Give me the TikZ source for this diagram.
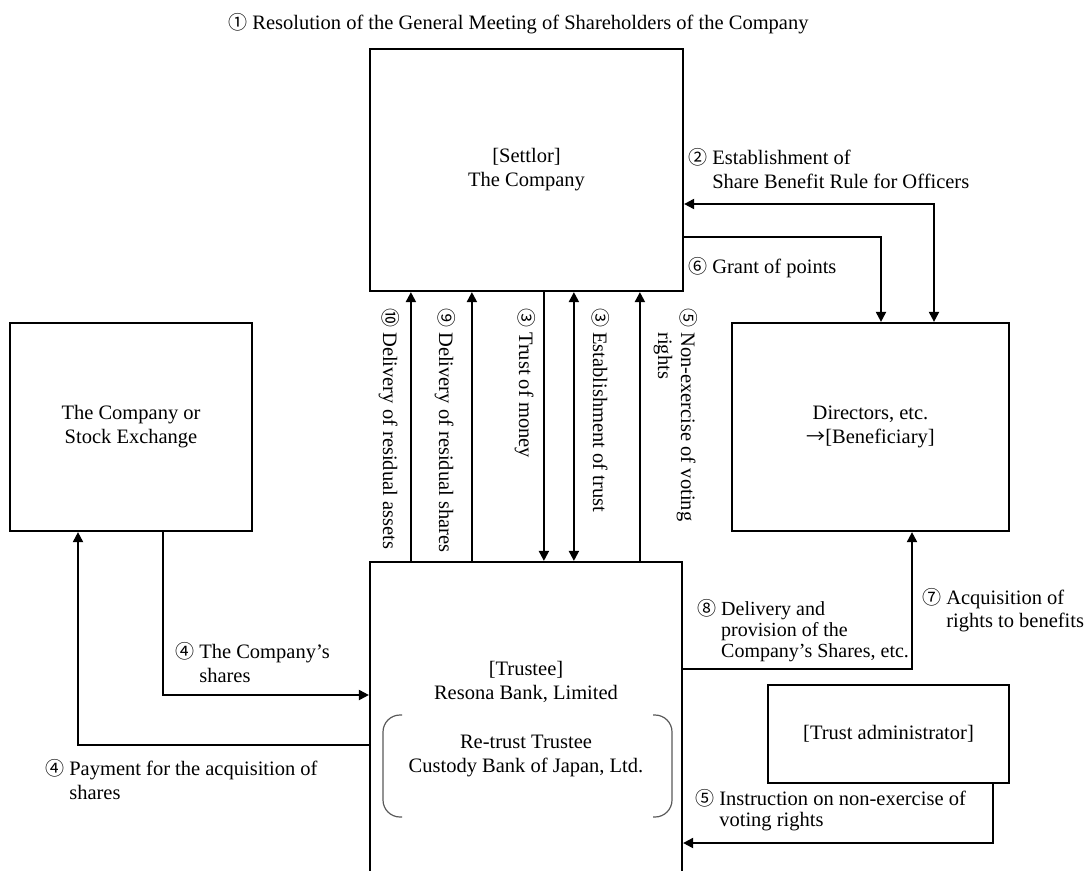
\documentclass[tikz,border=0pt]{standalone}
\usepackage{fontspec}
\setmainfont{Liberation Serif}
\newfontfamily\cjk{Noto Sans CJK JP}
\usetikzlibrary{arrows.meta,calc}
\newcommand{\cn}[1]{{\cjk\fontsize{19}{20}\selectfont #1}}
\newcommand{\ml}[1]{\begin{tabular}[t]{@{}l@{}}#1\end{tabular}}
\begin{document}
\begin{tikzpicture}[x=1pt,y=-1pt,
  every node/.style={font=\fontsize{20.5}{24}\selectfont},
  box/.style={draw, line width=2.2pt, rectangle, inner sep=0pt, align=center},
  txt/.style={inner sep=0pt, align=center},
  lbl/.style={inner sep=0pt, anchor=base west},
  rlbl/.style={inner sep=0pt, anchor=base west, rotate=-90},
  arr/.style={line width=2pt, -{Triangle[length=10pt,width=10pt]}},
  arrs/.style={line width=2pt, {Triangle[length=10pt,width=10pt]}-{Triangle[length=10pt,width=10pt]}},
  brk/.style={draw=black!65, line width=1.2pt, rounded corners=17pt}]
\useasboundingbox (0,0) rectangle (1089,870);
\clip (0,0) rectangle (1089,870);

% boxes
\node[box, minimum width=313pt, minimum height=242pt] (settlor) at (526.5,170) {[Settlor]\\The Company};
\node[box, minimum width=242pt, minimum height=208pt] (exch) at (131,427) {The Company or\\Stock Exchange};
\node[box, minimum width=277pt, minimum height=208pt] (dir) at (870.5,427) {Directors, etc.\\\cn{→}[Beneficiary]};
\node[box, minimum width=312pt, minimum height=340pt] (trustee) at (526,732) {};
\node[box, minimum width=241pt, minimum height=98pt] (admin) at (888.5,734) {[Trust administrator]};

% trustee texts
\node[txt] (ttext) at (526,682) {[Trustee]\\Resona Bank, Limited};
\node[txt] (rtext) at (526,756) {Re-trust Trustee\\Custody Bank of Japan, Ltd.};
\draw[brk] (402,715) -- (383,715) -- (383,817) -- (402,817);
\draw[brk] (653,715) -- (672,715) -- (672,817) -- (653,817);

% title
\node[lbl] (title) at (228,29) {\cn{①} Resolution of the General Meeting of Shareholders of the Company};

% vertical connectors between settlor and trustee
\draw[arr] ([xshift=42pt]trustee.north west) -- ([xshift=42pt]settlor.south west);
\draw[arr] ([xshift=103pt]trustee.north west) -- ([xshift=103pt]settlor.south west);
\draw[arr] ([xshift=175pt]settlor.south west) -- ([xshift=175pt]trustee.north west);
\draw[arrs] ([xshift=205pt]settlor.south west) -- ([xshift=205pt]trustee.north west);
\draw[arr] ([xshift=271pt]trustee.north west) -- ([xshift=271pt]settlor.south west);

\node[rlbl] (l10) at (383,308) {\cn{⑩} Delivery of residual assets};
\node[rlbl] (l9) at (439,308) {\cn{⑨} Delivery of residual shares};
\node[rlbl] (l3a) at (519,308) {\cn{③} Trust of money};
\node[rlbl] (l3b) at (593,308) {\cn{③} Establishment of trust};
\node[rlbl, font=\fontsize{20.5}{23}\selectfont] (l5a) at (681,308) {\ml{\cn{⑤} Non-exercise of voting\\\hphantom{\cn{⑤} }rights}};

% settlor <-> directors
\draw[arrs] ([yshift=-34pt]settlor.east) -| ([xshift=63.5pt]dir.north);
\draw[arr] ([yshift=-67pt]settlor.east) -| ([xshift=10.5pt]dir.north);
\node[lbl] (l2) at (688,164) {\ml{\cn{②} Establishment of\\\hphantom{\cn{②} }Share Benefit Rule for Officers}};
\node[lbl] (l6) at (688,273) {\cn{⑥} Grant of points};

% exchange <-> trustee
\draw[arr] ([xshift=32pt]exch.south) |- ([yshift=37pt]trustee.west);
\draw[arr] ([yshift=-13pt]trustee.west) -| ([xshift=-53pt]exch.south);
\node[lbl] (l4a) at (175,658) {\ml{\cn{④} The Company’s\\\hphantom{\cn{④} }shares}};
\node[lbl] (l4b) at (45,775) {\ml{\cn{④} Payment for the acquisition of\\\hphantom{\cn{④} }shares}};

% trustee -> directors
\draw[arr] ([yshift=63pt]trustee.east) -| ([xshift=41.5pt]dir.south);
\node[lbl, font=\fontsize{20}{21}\selectfont] (l8) at (697,615) {\ml{\cn{⑧} Delivery and\\\hphantom{\cn{⑧} }provision of the\\\hphantom{\cn{⑧} }Company’s Shares, etc.}};
\node[lbl, font=\fontsize{20.5}{23}\selectfont] (l7) at (922,604) {\ml{\cn{⑦} Acquisition of\\\hphantom{\cn{⑦} }rights to benefits}};

% admin -> trustee
\draw[arr] ([xshift=104.5pt]admin.south) |- ([yshift=-111pt]trustee.east);
\node[lbl, font=\fontsize{20.5}{21}\selectfont] (l5b) at (695,805) {\ml{\cn{⑤} Instruction on non-exercise of\\\hphantom{\cn{⑤} }voting rights}};
\end{tikzpicture}
\end{document}
